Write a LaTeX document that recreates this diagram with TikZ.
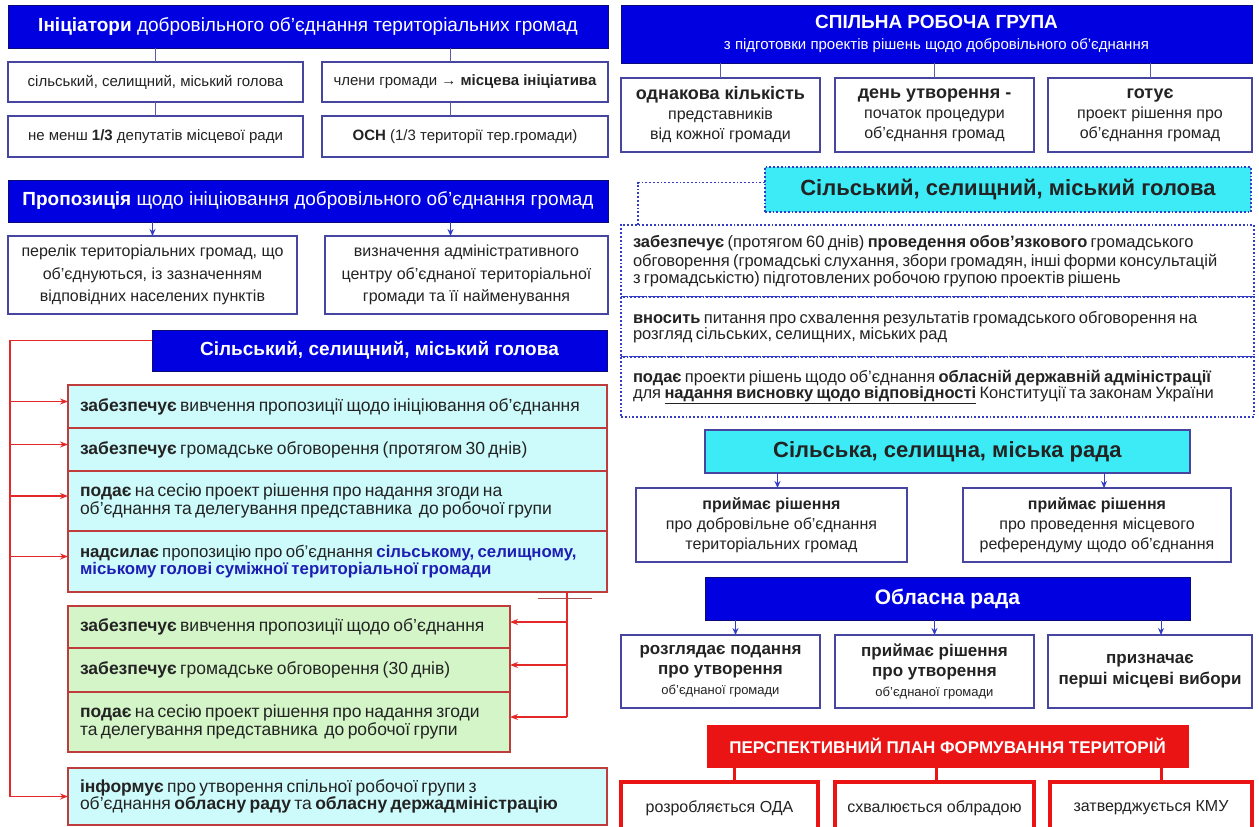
\documentclass[tikz,border=0pt]{standalone}
\usepackage{fontspec}
\setmainfont{Liberation Sans}
\usetikzlibrary{arrows.meta}
\definecolor{hdrblue}{RGB}{0,0,225}
\definecolor{hdrborder}{RGB}{10,10,120}
\definecolor{boxblue}{RGB}{70,70,160}
\definecolor{lcyan}{RGB}{205,250,250}
\definecolor{lgreen}{RGB}{212,245,200}
\definecolor{rowred}{RGB}{190,60,60}
\definecolor{linered}{RGB}{228,40,40}
\definecolor{cyanb}{RGB}{60,235,245}
\definecolor{dotblue}{RGB}{50,60,200}
\definecolor{planred}{RGB}{235,20,20}
\definecolor{txt}{RGB}{35,35,35}
\definecolor{btxt}{RGB}{30,30,180}
\definecolor{conn}{RGB}{90,90,170}
\newcommand\myfs[2]{\fontsize{#1}{#2}\selectfont}
\newcommand\bx[7]{%
  \pgfmathsetmacro\bw{#5-#3}\pgfmathsetmacro\bh{#6-#4}%
  \pgfmathsetmacro\bcx{(#3+#5)/2}\pgfmathsetmacro\bcy{(#4+#6)/2}%
  \node[#2, minimum width=\bw pt, minimum height=\bh pt] (#1) at (\bcx,\bcy) {#7};}
\newcommand\rbx[7]{%
  \pgfmathsetmacro\bw{#5-#3}\pgfmathsetmacro\bh{#6-#4}\pgfmathsetmacro\tw{#5-#3-24}%
  \pgfmathsetmacro\bcx{(#3+#5)/2}\pgfmathsetmacro\bcy{(#4+#6)/2}%
  \node[#2, minimum width=\bw pt, minimum height=\bh pt, text width=\tw pt] (#1) at (\bcx,\bcy) {#7};}
\tikzset{
  every node/.style={inner sep=0pt, outer sep=0pt, text=txt},
  hdr/.style={draw=hdrborder, line width=1pt, fill=hdrblue, text=white, align=center},
  wbox/.style={draw=boxblue, line width=1.3pt, fill=white, align=center},
  cyanrow/.style={draw=rowred, line width=1.2pt, fill=lcyan, align=left},
  greenrow/.style={draw=rowred, line width=1.2pt, fill=lgreen, align=left},
  dotrow/.style={draw=dotblue, line width=1.8pt, dotted, fill=white, align=left},
  cyanhdr/.style={draw=dotblue, line width=1.8pt, dotted, fill=cyanb, align=center},
  radahdr/.style={draw=boxblue, line width=1.3pt, fill=cyanb, align=center},
  planhdr/.style={draw=planred, line width=1pt, fill=planred, text=white, align=center},
  pbox/.style={draw=planred, line width=4pt, fill=white, align=center},
  cline/.style={draw=conn, line width=1pt},
  barr/.style={draw=dotblue, line width=1pt, -{Stealth[length=7pt,width=6pt]}},
  rline/.style={draw=linered, line width=1.2pt},
  rarr/.style={draw=linered, line width=1.2pt, -{Stealth[length=8pt,width=6pt]}},
  dline/.style={draw=dotblue, line width=1.8pt, dotted},
  pline/.style={draw=planred, line width=3pt}
}
\begin{document}
\begin{tikzpicture}[x=1pt,y=-1pt]
\useasboundingbox (0,0) rectangle (1259,827);
\fill[white] (0,0) rectangle (1259,827);
% ---------- left column ----------
\bx{h1}{hdr, font={\myfs{19}{22}}}{8}{5}{608}{48}{\textbf{Ініціатори} добровільного об’єднання територіальних громад}
\bx{b1}{wbox, font={\myfs{15}{18}}}{8}{62}{303}{102}{сільський, селищний, міський голова}
\bx{b2}{wbox, font={\myfs{15}{18}}}{322}{62}{608}{102}{члени громади → \textbf{місцева ініціатива}}
\bx{b3}{wbox, font={\myfs{15}{18}}}{8}{116}{303}{157}{не менш \textbf{1/3} депутатів місцевої ради}
\bx{b4}{wbox, font={\myfs{15}{18}}}{322}{116}{608}{157}{\textbf{ОСН} (1/3 території тер.громади)}
\draw[cline] (b1.north) -- (b1.north |- h1.south);
\draw[cline] ([xshift=-15pt]b2.north) -- ([xshift=-15pt]b2.north |- h1.south);
\draw[cline] (b1.south) -- (b3.north);
\draw[cline] ([xshift=-15pt]b2.south) -- ([xshift=-15pt]b4.north);
\bx{h2}{hdr, font={\myfs{19}{22}}}{8}{180}{608}{222}{\textbf{Пропозиція} щодо ініціювання добровільного об’єднання громад}
\bx{b5}{wbox, font={\myfs{16}{22.5}}}{8}{236}{297}{314}{перелік територіальних громад, що\\об’єднуються, із зазначенням\\відповідних населених пунктів}
\bx{b6}{wbox, font={\myfs{16}{22.5}}}{325}{236}{608}{314}{визначення адміністративного\\центру об’єднаної територіальної\\громади та її найменування}
\draw[barr] (b5.north |- h2.south) -- (b5.north);
\draw[barr] ([xshift=-16pt]b6.north |- h2.south) -- ([xshift=-16pt]b6.north);
\bx{h3}{hdr, font={\myfs{19}{22}}}{152}{330}{607}{371}{\textbf{Сільський, селищний, міський голова}}
\rbx{c1}{cyanrow}{68}{385}{607}{428}{\myfs{17.5}{21}\textbf{забезпечує} вивчення пропозиції щодо ініціювання об’єднання}
\rbx{c2}{cyanrow}{68}{428}{607}{471}{\myfs{17.5}{21}\textbf{забезпечує} громадське обговорення (протягом 30 днів)}
\rbx{c3}{cyanrow}{68}{471}{607}{531}{\myfs{17.5}{22}\textbf{подає} на сесію проект рішення про надання згоди на\\об’єднання та делегування представника\ \ до робочої групи}
\rbx{c4}{cyanrow}{68}{531}{607}{592}{\myfs{16.8}{22}\mbox{\textbf{надсилає} пропозицію про об’єднання \textcolor{btxt}{\textbf{сільському, селищному,}}}\\\textcolor{btxt}{\textbf{міському голові суміжної територіальної громади}}}
\rbx{g1}{greenrow}{68}{606}{510}{648}{\myfs{17.5}{21}\textbf{забезпечує} вивчення пропозиції щодо об’єднання}
\rbx{g2}{greenrow}{68}{648}{510}{692}{\myfs{17.5}{21}\textbf{забезпечує} громадське обговорення (30 днів)}
\rbx{g3}{greenrow}{68}{692}{510}{752}{\myfs{17.5}{22}\textbf{подає} на сесію проект рішення про надання згоди\\та делегування представника\ \ до робочої групи}
\rbx{info}{cyanrow}{68}{768}{607}{825}{\myfs{17.5}{22}\textbf{інформує} про утворення спільної робочої групи з\\об’єднання \textbf{обласну раду} та \textbf{обласну держадміністрацію}}
\coordinate (rx) at (10,0);
\draw[rarr] ([yshift=10pt]h3.west) -| (rx |- info.west) -- (info.west);
\foreach \n in {c1,c2,c3,c4} \draw[rarr] ([yshift=5pt]rx |- \n.west) -- ([yshift=5pt]\n.west);
\coordinate (ry) at (567,0);
\draw[rline] (ry |- c4.south) -- ([yshift=5pt]ry |- g3.east);
\foreach \n in {g1,g2,g3} \draw[rarr] ([yshift=5pt]ry |- \n.east) -- ([yshift=5pt]\n.east);
\draw[draw=rowred!70!gray, line width=1pt] (538,598) -- (592,598);
% ---------- right column ----------
\bx{rh}{hdr, font={\myfs{15}{18}}}{621}{5}{1252}{63}{{\myfs{19}{24}\textbf{СПІЛЬНА РОБОЧА ГРУПА}}\\[3pt]з підготовки проектів рішень щодо добровільного об’єднання}
\bx{r1}{wbox, font={\myfs{16}{20}}}{621}{78}{820}{152}{{\myfs{18}{20}\textbf{однакова кількість}}\\представників\\від кожної громади}
\bx{r2}{wbox, font={\myfs{16}{20}}}{835}{78}{1034}{152}{{\myfs{18}{20}\textbf{день утворення -}}\\початок процедури\\об’єднання громад}
\bx{r3}{wbox, font={\myfs{16}{20}}}{1048}{78}{1252}{152}{{\myfs{18}{20}\textbf{готує}}\\проект рішення про\\об’єднання громад}
\draw[cline] (r1.north) -- (r1.north |- rh.south);
\draw[cline] (r2.north) -- (r2.north |- rh.south);
\draw[cline] (r3.north) -- (r3.north |- rh.south);
\bx{rg}{cyanhdr, font={\myfs{22}{24}}}{765}{167}{1251}{212}{\textbf{Сільський, селищний, міський голова}}
\rbx{d1}{dotrow}{621}{225}{1254}{297}{\myfs{16.5}{19.5}\textbf{забезпечує} (протягом 60 днів) \textbf{проведення обов’язкового} громадського\\обговорення (громадські слухання, збори громадян, інші форми консультацій\\з громадськістю) підготовлених робочою групою проектів рішень}
\rbx{d2}{dotrow}{621}{297}{1254}{357}{\myfs{16.5}{19.5}\textbf{вносить} питання про схвалення результатів громадського обговорення на\\розгляд сільських, селищних, міських рад}
\rbx{d3}{dotrow}{621}{357}{1254}{417}{\myfs{16.5}{19.5}\textbf{подає} проекти рішень щодо об’єднання \textbf{обласній державній адміністрації}\\для \underline{\textbf{надання висновку щодо відповідності}} Конституції та законам України}
\coordinate (dx) at (638,0);
\draw[dline] ([yshift=7pt]rg.west) -| (dx |- d1.north);
\bx{rr}{radahdr, font={\myfs{22}{24}}}{705}{430}{1190}{473}{\textbf{Сільська, селищна, міська рада}}
\bx{s1}{wbox, font={\myfs{16}{20}}}{636}{488}{907}{562}{\textbf{приймає рішення}\\про добровільне об’єднання\\територіальних громад}
\bx{s2}{wbox, font={\myfs{16}{20}}}{963}{488}{1231}{562}{\textbf{приймає рішення}\\про проведення місцевого\\референдуму щодо об’єднання}
\draw[barr] ([xshift=6pt]s1.north |- rr.south) -- ([xshift=6pt]s1.north);
\draw[barr] ([xshift=7pt]s2.north |- rr.south) -- ([xshift=7pt]s2.north);
\bx{orr}{hdr, font={\myfs{21}{24}}}{705}{577}{1190}{620}{\textbf{Обласна рада}}
\bx{o1}{wbox, font={\myfs{17}{20}}}{621}{635}{820}{708}{\textbf{розглядає подання}\\\textbf{про утворення}\\{\myfs{13}{18}об’єднаної громади}}
\bx{o2}{wbox, font={\myfs{17}{20}}}{835}{635}{1034}{708}{\textbf{приймає рішення}\\\textbf{про утворення}\\{\myfs{13}{18}об’єднаної громади}}
\bx{o3}{wbox, font={\myfs{17}{21}}}{1048}{635}{1252}{708}{\textbf{призначає}\\\textbf{перші місцеві вибори}}
\draw[barr] ([xshift=15pt]o1.north |- orr.south) -- ([xshift=15pt]o1.north);
\draw[barr] (o2.north |- orr.south) -- (o2.north);
\draw[barr] ([xshift=11pt]o3.north |- orr.south) -- ([xshift=11pt]o3.north);
\bx{plan}{planhdr, font={\myfs{17}{21}}}{707}{725}{1188}{767}{\textbf{ПЕРСПЕКТИВНИЙ ПЛАН ФОРМУВАННЯ ТЕРИТОРІЙ}}
\bx{p1}{pbox, font={\myfs{16}{20}}}{621}{782}{818}{834}{розробляється ОДА}
\bx{p2}{pbox, font={\myfs{16}{20}}}{835}{782}{1034}{834}{схвалюється облрадою}
\bx{p3}{pbox, font={\myfs{16}{20}}}{1050}{782}{1252}{834}{затверджується КМУ}
\draw[pline] ([xshift=15pt]p1.north |- plan.south) -- ([xshift=15pt]p1.north);
\draw[pline] ([xshift=2pt]p2.north |- plan.south) -- ([xshift=2pt]p2.north);
\draw[pline] ([xshift=10pt]p3.north |- plan.south) -- ([xshift=10pt]p3.north);
\end{tikzpicture}
\end{document}
